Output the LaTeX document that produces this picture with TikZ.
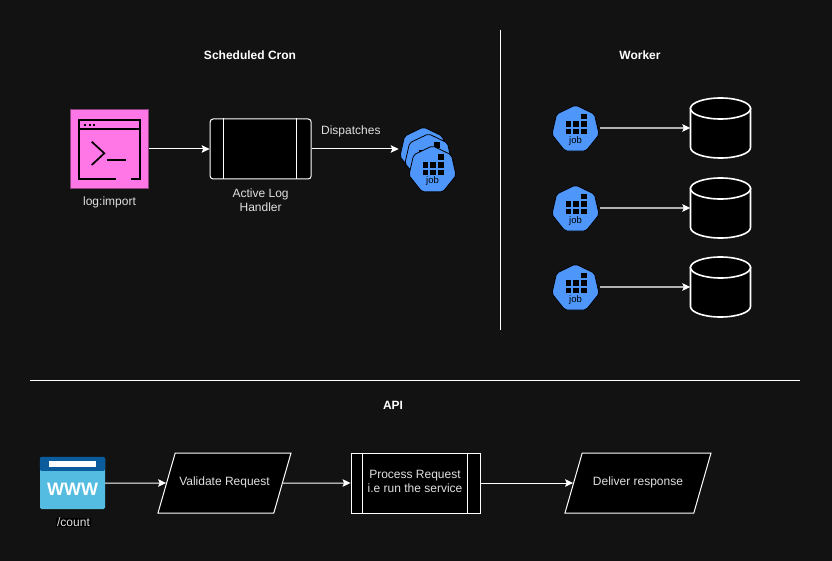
\documentclass[tikz,border=0pt]{standalone}
\usepackage{fontspec}
\setmainfont{Liberation Sans}
\usetikzlibrary{shapes.geometric,arrows.meta,positioning,calc}
\definecolor{pagebg}{HTML}{121212}
\definecolor{labelgray}{HTML}{E0E0E0}
\definecolor{termpink}{HTML}{FF77E6}
\definecolor{jobblue}{HTML}{4F96FA}
\definecolor{wwwdark}{HTML}{0B5C9C}
\definecolor{wwwlight}{HTML}{54BCE0}

\tikzset{
  jobicon/.pic={
    \node[jobbody] (-body) at (0,0) {};
    \foreach \px in {0,1,2}
      \foreach \py in {0,1}
        \fill[black] (-10+7.7*\px,-8+7.6*\py) rectangle ++(5.6,5.6);
    \fill[black] (5.4,-15.5) rectangle ++(5.6,5.6);
    \node[jobtext] (-text) at (0,11.5) {#1};
  },
  storeicon/.pic={
    \node[inner sep=0pt, minimum width=60pt, minimum height=60pt] (-box) at (0,0) {};
    \draw[storeline, fill=black] (-30,-19.5) -- (-30,19.5)
      .. controls (-30,25.3) and (-16.6,30) .. (0,30)
      .. controls (16.6,30) and (30,25.3) .. (30,19.5) -- (30,-19.5) -- cycle;
    \draw[storeline, fill=black] (0,-19.5) ellipse [x radius=30pt, y radius=10.5pt];
  },
}

\begin{document}
\begin{tikzpicture}[
  x=1pt, y=-1pt,
  txt/.style={font=\fontsize{12}{14}\selectfont, text=labelgray, align=center, inner sep=0pt},
  title/.style={txt, font=\fontsize{12}{14}\selectfont\bfseries, text=white},
  divider/.style={draw=white, line width=0.9pt},
  link/.style={draw=white, line width=1pt, ->},
  graylink/.style={draw=white!70!black, line width=1.2pt, -{Stealth[length=8pt,width=7.5pt,inset=1.5pt,color=white]}},
  jobbody/.style={regular polygon, regular polygon sides=7, draw=black, fill=jobblue,
                  line width=0.8pt, minimum size=48.4pt, inner sep=0pt, rounded corners=2pt},
  jobtext/.style={font=\fontsize{9.5}{10}\selectfont, text=black, inner sep=0pt},
  subproc/.style={rectangle, draw=white, fill=black, line width=1pt, text=labelgray,
                  font=\fontsize{12}{14}\selectfont, align=center, inner sep=0pt,
                  minimum width=#1, minimum height=60pt},
  para/.style={trapezium, trapezium stretches body=true, trapezium left angle=74, trapezium right angle=106,
               draw=white, fill=black, line width=1pt, text=labelgray, font=\fontsize{12}{14}\selectfont,
               inner xsep=0pt, inner ysep=24pt, text height=8.5pt, text depth=3.5pt, minimum width=#1},
  storeline/.style={draw=white, line width=1.6pt},
  termline/.style={draw=black, line width=1.7pt},
  >={Stealth[length=8pt,width=7.5pt,inset=1.5pt]},
]
  \fill[pagebg] (0,0) rectangle (832,561);
  \useasboundingbox (0,0) rectangle (832,561);

  % dividers
  \coordinate (vtop) at (500.5,30);
  \coordinate (vbot) at (500.5,330);
  \coordinate (hleft) at (30,380.5);
  \coordinate (hright) at (800,380.5);
  \draw[divider] (vtop) -- (vbot);
  \draw[divider] (hleft) -- (hright);

  \node[title] (crontitle) at (250,55) {Scheduled Cron};
  \node[title] (workertitle) at (640,55) {Worker};
  \node[title] (apititle) at (393,405) {API};

  % cron row
  \node[rectangle, draw=termpink!55!black, fill=termpink, line width=0.8pt, minimum size=78.5pt,
        inner sep=0pt] (logimport) at (109.5,149) {};
  \draw[termline] (115.7,179) -- (79,179) -- (79,120) -- (140,120) -- (140,179) -- (131,179);
  \draw[termline] (79,129.3) -- (140,129.3);
  \foreach \dx in {85,89.5,94}
    \fill[black] (\dx-1,124) rectangle ++(2,2);
  \draw[termline] (91.7,141.7) -- (104.3,153.3) -- (91.7,165);
  \draw[termline] (107.3,160.3) -- (126,160.3);
  \node[txt, below=8pt of logimport] (logimportlabel) {log:import};

  \node[subproc=101pt, rounded corners=3pt, right=60.5pt of logimport] (handler) {};
  \draw[draw=white, line width=1pt] ([xshift=14.3pt]handler.north west) -- ([xshift=14.3pt]handler.south west);
  \draw[draw=white, line width=1pt] ([xshift=-14.7pt]handler.north east) -- ([xshift=-14.7pt]handler.south east);
  \node[txt, below=9pt of handler] (handlerlabel) {Active Log\\Handler};
  \draw[link] (logimport) -- (handler);

  \pic (jobback) at (423.5,151.2) {jobicon={}};
  \pic (jobmid) at (428.5,158) {jobicon={}};
  \pic (jobfront) at (432.5,170) {jobicon=job};
  \draw[link] (handler.east) -- node[txt, above=12pt, pos=0.45] (dispatch) {Dispatches}
    ([xshift=-2pt]handler.east -| jobback-body.west);

  % worker rows
  \foreach \i/\yy in {1/128,2/208,3/287} {
    \pic (job\i) at (575.5,\yy+1.2) {jobicon=job};
    \pic (db\i) at (720.5,\yy) {storeicon};
    \draw[graylink] ([xshift=1.5pt]db\i-box.west -| job\i-body.east) -- (db\i-box.west);
  }

  % api row
  \node[rectangle, rounded corners=1.5pt, fill=wwwlight, minimum width=65pt, minimum height=52pt,
        inner sep=0pt] (www) at (72.5,483) {};
  \fill[wwwdark, rounded corners=1.5pt] (www.north west) rectangle ($(www.north east)+(0,14)$);
  \fill[white] (48.7,461) rectangle (96.3,466.7);
  \node[font=\fontsize{18}{18}\selectfont\bfseries, text=white, inner sep=0pt] (wwwtext) at (72.5,489) {WWW};
  \node[txt, fill=black, inner xsep=1pt, inner ysep=0.5pt] (countlabel) at (73.5,522.5) {/count};

  \node[para=133pt] (validate) at (224.5,483) {Validate Request};
  \node[subproc=129.5pt] (process) at (415.8,483) {};
  \draw[draw=white, line width=1pt] ([xshift=12.3pt]process.north west) -- ([xshift=12.3pt]process.south west);
  \draw[draw=white, line width=1pt] ([xshift=-13.3pt]process.north east) -- ([xshift=-13.3pt]process.south east);
  \node[txt] (processtext) at (415,481) {Process Request\\i.e run the service};
  \node[para=146pt] (deliver) at (638,483) {Deliver response};

  \draw[link] (www) -- (validate);
  \draw[link] (validate) -- (process);
  \draw[link] (process) -- (deliver);
\end{tikzpicture}
\end{document}
